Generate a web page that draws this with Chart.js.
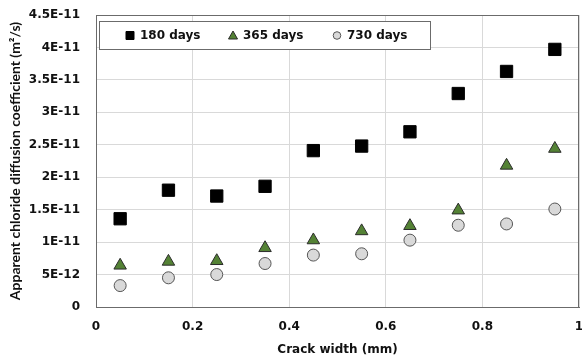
<!DOCTYPE html>
<html>
<head>
<meta charset="utf-8">
<script src="https://cdn.jsdelivr.net/npm/chart.js@4"></script>
<style>
  html, body { margin: 0; padding: 0; background: #fff; }
  canvas { display: block; }
</style>
</head>
<body>
<canvas id="myChart" width="582" height="358"></canvas>
<script>
const crackWidth = [0.05, 0.15, 0.25, 0.35, 0.45, 0.55, 0.65, 0.75, 0.85, 0.95];
const d180 = [1.36e-11, 1.80e-11, 1.71e-11, 1.86e-11, 2.41e-11, 2.48e-11, 2.70e-11, 3.29e-11, 3.63e-11, 3.97e-11];
const d365 = [6.4e-12, 7.0e-12, 7.1e-12, 9.1e-12, 1.03e-11, 1.17e-11, 1.25e-11, 1.49e-11, 2.18e-11, 2.44e-11];
const d730 = [3.3e-12, 4.5e-12, 5.0e-12, 6.7e-12, 8.0e-12, 8.2e-12, 1.03e-11, 1.26e-11, 1.28e-11, 1.51e-11];
const yTickLabels = ['0', '5E-12', '1E-11', '1.5E-11', '2E-11', '2.5E-11', '3E-11', '3.5E-11', '4E-11', '4.5E-11'];
const xTickLabels = ['0', '0.2', '0.4', '0.6', '0.8', '1'];

const WIDE = '"DejaVu Sans", Verdana, sans-serif';
const NARROW = 'Lato, "Open Sans", sans-serif';
const toXY = arr => arr.map((v, i) => ({ x: crackWidth[i], y: v }));

// frame around the plot area + legend box inside it
const framePlugin = {
    id: 'frame',
    beforeDatasetsDraw(chart) {
        const a = chart.chartArea, ctx = chart.ctx;
        ctx.save();
        ctx.strokeStyle = '#6b6b6b';
        ctx.lineWidth = 1;
        ctx.strokeRect(Math.round(a.left) + 0.5, Math.round(a.top) + 0.5,
            Math.round(a.right - a.left) - 1, Math.round(a.bottom - a.top));
        ctx.restore();
    },
    afterDatasetsDraw(chart) {
        const a = chart.chartArea, ctx = chart.ctx;
        const bx = a.left + 3, by = a.top + 6, bw = 331, bh = 28;
        ctx.save();
        ctx.fillStyle = '#fff';
        ctx.fillRect(bx, by, bw, bh);
        ctx.strokeStyle = '#6b6b6b';
        ctx.lineWidth = 1;
        ctx.strokeRect(bx + 0.5, by + 0.5, bw, bh);
        const cy = by + bh / 2 + 0.5;
        const items = [[31, 'rect'], [134, 'triangle'], [238, 'circle']];
        chart.data.datasets.forEach((ds, i) => {
            const mx = bx + items[i][0];
            ctx.fillStyle = ds.backgroundColor;
            ctx.strokeStyle = ds.borderColor;
            ctx.beginPath();
            if (items[i][1] === 'rect') {
                ctx.rect(mx - 4, cy - 4, 8, 8);
            } else if (items[i][1] === 'triangle') {
                ctx.moveTo(mx, cy - 4.5);
                ctx.lineTo(mx + 4.5, cy + 3.5);
                ctx.lineTo(mx - 4.5, cy + 3.5);
                ctx.closePath();
            } else {
                ctx.arc(mx, cy, 3.8, 0, Math.PI * 2);
            }
            ctx.fill();
            ctx.stroke();
            ctx.fillStyle = '#111';
            ctx.font = 'bold 12px ' + WIDE;
            ctx.textBaseline = 'middle';
            ctx.textAlign = 'left';
            ctx.fillText(ds.label, mx + 10, cy);
        });
        ctx.restore();
    }
};

const ctx = document.getElementById('myChart').getContext('2d');
const myChart = new Chart(ctx, {
    type: 'scatter',
    data: {
        datasets: [{
            label: '180 days',
            data: toXY(d180),
            pointStyle: 'rect',
            pointRadius: 8.7,
            backgroundColor: '#000000',
            borderColor: '#000000',
            borderWidth: 1
        },
        {
            label: '365 days',
            data: toXY(d365),
            pointStyle: 'triangle',
            pointRadius: 7.2,
            backgroundColor: '#548235',
            borderColor: '#2b2b2b',
            borderWidth: 1
        },
        {
            label: '730 days',
            data: toXY(d730),
            pointStyle: 'circle',
            pointRadius: 6,
            backgroundColor: '#d9d9d9',
            borderColor: '#555555',
            borderWidth: 1
        }]
    },
    options: {
        responsive: false,
        animation: false,
        layout: { autoPadding: false, padding: { top: 15, right: 3, left: 0, bottom: 0 } },
        plugins: {
            legend: { display: false },
            tooltip: { enabled: false }
        },
        scales: {
            x: {
                type: 'linear',
                min: 0,
                max: 1,
                ticks: {
                    stepSize: 0.2,
                    padding: 13,
                    color: '#111',
                    font: { family: WIDE, size: 12, weight: 'bold' },
                    callback: (v, i) => xTickLabels[i]
                },
                grid: { color: '#d9d9d9', drawTicks: false },
                border: { color: '#6b6b6b' },
                title: {
                    display: true,
                    text: 'Crack width (mm)',
                    color: '#111',
                    font: { family: WIDE, size: 12, weight: 'bold' },
                    padding: { top: 4, bottom: 1 }
                },
                afterFit(scale) {
                    scale.height = 51;
                    scale.paddingRight = 0;
                    scale.paddingLeft = 0;
                }
            },
            y: {
                type: 'linear',
                min: 0,
                max: 4.5e-11,
                ticks: {
                    stepSize: 5e-12,
                    padding: 16,
                    color: '#111',
                    font: { family: WIDE, size: 12, weight: 'bold' },
                    callback: (v, i) => yTickLabels[i]
                },
                grid: { color: '#d9d9d9', drawTicks: false },
                border: { color: '#6b6b6b' },
                title: {
                    display: true,
                    text: 'Apparent chloride diffusion coefficient (m\u00B2/s)',
                    color: '#111',
                    font: { family: NARROW, size: 14, weight: 'bold' },
                    padding: { top: 7, bottom: 4 }
                },
                afterFit(scale) {
                    scale.width = 96;
                    scale.paddingTop = 0;
                    scale.paddingBottom = 0;
                }
            }
        }
    },
    plugins: [framePlugin]
});
</script>
</body>
</html>
